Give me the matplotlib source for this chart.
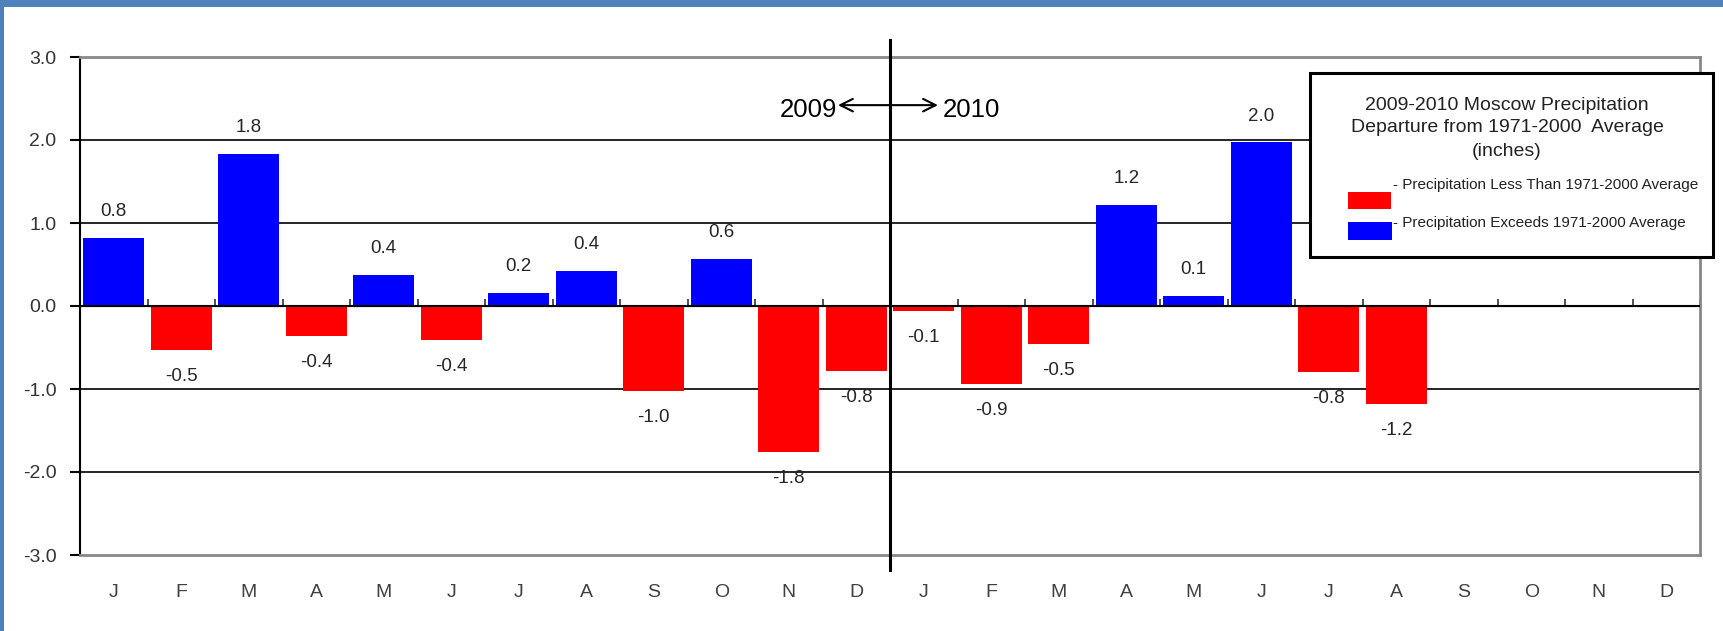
import matplotlib
matplotlib.use("Agg")
import matplotlib.pyplot as plt
from matplotlib.patches import Rectangle
from matplotlib.ticker import NullFormatter
import numpy as np

plt.rcParams['font.family'] = ['Liberation Sans', 'DejaVu Sans']
plt.rcParams['axes.unicode_minus'] = False

# ---- data ----
months = ["J", "F", "M", "A", "M", "J", "J", "A", "S", "O", "N", "D",
          "J", "F", "M", "A", "M", "J", "J", "A", "S", "O", "N", "D"]
values_2009 = [0.82, -0.53, 1.83, -0.36, 0.37, -0.41, 0.16, 0.42, -1.03, 0.57, -1.76, -0.78]
values_2010 = [-0.06, -0.94, -0.46, 1.22, 0.12, 1.97, -0.80, -1.18, np.nan, np.nan, np.nan, np.nan]
yticks = [-3.0, -2.0, -1.0, 0.0, 1.0, 2.0, 3.0]
legend_title = ["2009-2010 Moscow Precipitation", "Departure from 1971-2000  Average", "(inches)"]
legend_labels = ["- Precipitation Less Than 1971-2000 Average",
                 "- Precipitation Exceeds 1971-2000 Average"]
years = ["2009", "2010"]

values = np.array(values_2009 + values_2010, dtype=float)
x = np.arange(len(months))
colors = ["#0000ff" if v >= 0 else "#ff0000" for v in np.nan_to_num(values)]

W, H = 1723, 631
fig = plt.figure(figsize=(W / 100, H / 100), dpi=100)
fig.patch.set_facecolor("white")

# blue frame
frame_col = "#4f81bd"
fig.patches.append(Rectangle((0, 1 - 7 / H), 1, 7 / H, transform=fig.transFigure,
                             facecolor=frame_col, edgecolor="none", zorder=0))
fig.patches.append(Rectangle((0, 0), 4 / W, 1, transform=fig.transFigure,
                             facecolor=frame_col, edgecolor="none", zorder=0))

ax = fig.add_axes([80 / W, 1 - 555 / H, (1700 - 80) / W, (555 - 57) / H])
ax.set_xlim(-0.5, len(months) - 0.5)
ax.set_ylim(-3, 3)

# gridlines
for yv in yticks[1:-1]:
    ax.axhline(yv, color="black", lw=1.2, zorder=1)

bars = ax.bar(x, np.nan_to_num(values), width=0.9, color=colors, zorder=2)
for b, v in zip(bars, values):
    if np.isnan(v):
        b.set_visible(False)

# data labels
for xi, v in zip(x, values):
    if np.isnan(v):
        continue
    off = 19 if v >= 0 else -19
    ax.annotate(f"{v:.1f}", (xi, v), xytext=(0, off), textcoords="offset points",
                ha="center", va="center", fontsize=13.5, color="#262626", zorder=5)

# spines
for s in ["top", "right", "bottom"]:
    ax.spines[s].set_color("#888888")
    ax.spines[s].set_linewidth(2)
ax.spines["left"].set_color("black")
ax.spines["left"].set_linewidth(1.5)

ax.set_yticks(yticks)
ax.set_yticklabels([f"{t:.1f}" for t in yticks])
ax.tick_params(axis="y", length=7, width=1.5, color="black", pad=10,
               labelsize=14, labelcolor="#333333")
ax.set_xticks(x)
ax.set_xticklabels(months)
ax.tick_params(axis="x", length=0, pad=21, labelsize=14, labelcolor="#404040")

# zero category axis with boundary ticks
ax.axhline(0, color="black", lw=1.5, zorder=3)
sec = ax.secondary_xaxis(0.5)
sec.set_xticks(np.arange(-0.5, len(months), 1.0))
sec.xaxis.set_major_formatter(NullFormatter())
sec.tick_params(axis="x", direction="out", length=5, width=1.2, color="#333333")
sec.spines["bottom"].set_visible(False)

# year divider
ax.plot([11.5, 11.5], [3.2, -3.18], color="black", lw=2.2, clip_on=False, zorder=4)
ax.annotate("", xy=(10.73, 2.42), xytext=(12.21, 2.42),
            arrowprops=dict(arrowstyle="<->,head_length=0.9,head_width=0.45",
                            color="black", lw=1.5, shrinkA=0, shrinkB=0))
ax.text(10.72, 2.36, years[0], ha="right", va="center", fontsize=18.5, color="black")
ax.text(12.28, 2.36, years[1], ha="left", va="center", fontsize=18.5, color="black")

# legend box (manual)
fig.patches.append(Rectangle((1310 / W, 1 - 257 / H), 403 / W, 184 / H,
                             transform=fig.transFigure, facecolor="white",
                             edgecolor="black", lw=2.2, zorder=5))
for t, yp in zip(legend_title, [105, 128, 152]):
    fig.text(1507 / W, 1 - yp / H, t, ha="center", va="center",
             fontsize=14, color="#222222", zorder=6)
fig.patches.append(Rectangle((1348 / W, 1 - 209 / H), 43 / W, 17 / H,
                             transform=fig.transFigure, facecolor="#ff0000",
                             edgecolor="none", zorder=6))
fig.patches.append(Rectangle((1348 / W, 1 - 240 / H), 44 / W, 18 / H,
                             transform=fig.transFigure, facecolor="#0000ff",
                             edgecolor="none", zorder=6))
fig.text(1393 / W, 1 - 185 / H, legend_labels[0], ha="left", va="center",
         fontsize=11, color="#222222", zorder=6)
fig.text(1393 / W, 1 - 223 / H, legend_labels[1], ha="left", va="center",
         fontsize=11, color="#222222", zorder=6)

fig.savefig("out.png", dpi=100, facecolor="white")
